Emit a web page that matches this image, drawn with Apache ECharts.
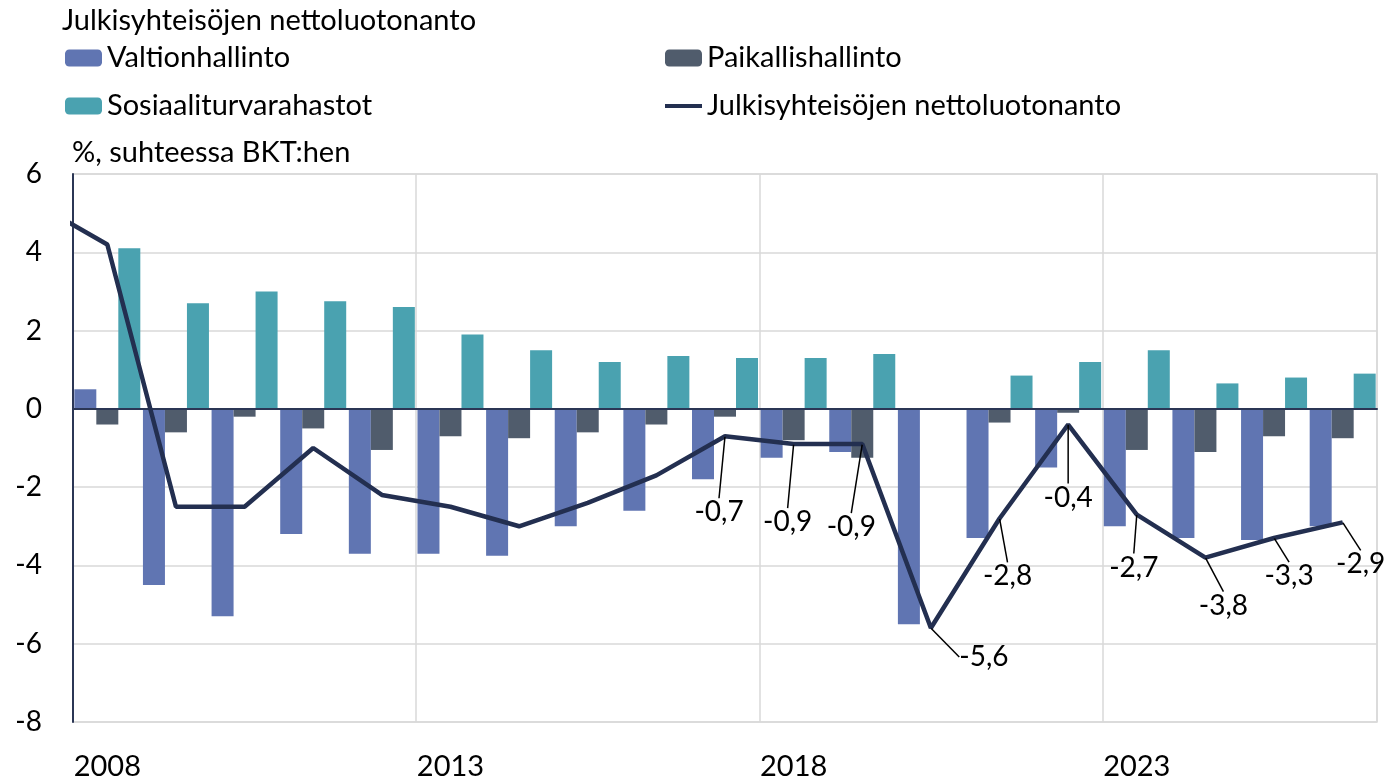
<!DOCTYPE html>
<html>
<head>
<meta charset="utf-8">
<script src="https://cdn.jsdelivr.net/npm/echarts@6/dist/echarts.min.js"></script>
<style>
  html, body { margin: 0; padding: 0; background: #fff; }
  #chart { width: 1391px; height: 782px; }
</style>
</head>
<body>
<div id="chart"></div>
<script>
// vuodet (pylväät)
const years = ['2008', '2009', '2010', '2011', '2012', '2013', '2014', '2015', '2016', '2017',
  '2018', '2019', '2020', '2021', '2022', '2023', '2024', '2025', '2026']

const valtionhallinto = [0.5, -4.5, -5.3, -3.2, -3.7, -3.7, -3.75, -3.0, -2.6, -1.8,
  -1.25, -1.1, -5.5, -3.3, -1.5, -3.0, -3.3, -3.35, -3.0]
const paikallishallinto = [-0.4, -0.6, -0.2, -0.5, -1.05, -0.7, -0.75, -0.6, -0.4, -0.2,
  -0.8, -1.25, 0, -0.35, -0.1, -1.05, -1.1, -0.7, -0.75]
const sosiaaliturva = [4.1, 2.7, 3.0, 2.75, 2.6, 1.9, 1.5, 1.2, 1.35, 1.3,
  1.3, 1.4, 0, 0.85, 1.2, 1.5, 0.65, 0.8, 0.9]

// viiva alkaa 2007:stä (leikkautuu kuvan reunaan)
const netYears = [2007, 2008, 2009, 2010, 2011, 2012, 2013, 2014, 2015, 2016, 2017,
  2018, 2019, 2020, 2021, 2022, 2023, 2024, 2025, 2026]
const netLending = [5.2, 4.2, -2.5, -2.5, -1.0, -2.2, -2.5, -3.0, -2.4, -1.7, -0.7,
  -0.9, -0.9, -5.6, -2.8, -0.4, -2.7, -3.8, -3.3, -2.9]
const labelFrom = 2017

const yTicks = { min: -8, max: 6, interval: 2 }

// arvolappujen siirrot pisteestä [dx, dy]
const labelShift = {
  2017: [-6, 76], 2018: [-6, 78], 2019: [-11, 83], 2020: [53, 29], 2021: [8, 58],
  2022: [0, 73], 2023: [-3, 53], 2024: [18, 48], 2025: [15, 38], 2026: [18, 42]
}

const FONT = 'Lato'
const names = ['Valtionhallinto', 'Paikallishallinto', 'Sosiaaliturvarahastot', 'Julkisyhteisöjen nettoluotonanto']

const lineData = netYears.map((y, i) => {
  if (y < labelFrom) return [y, netLending[i]]
  return { value: [y, netLending[i]], symbol: 'circle', symbolSize: 1, label: { show: true } }
})

const chart = echarts.init(document.getElementById('chart'), null, { renderer: 'canvas' })

chart.setOption({
  animation: false,
  textStyle: { fontFamily: FONT },
  title: [
    { text: 'Julkisyhteisöjen nettoluotonanto', left: 62, top: 6, padding: 0,
      textStyle: { fontSize: 29, fontWeight: 'normal', color: '#000', fontFamily: FONT } },
    { text: '%, suhteessa BKT:hen', left: 72, top: 138, padding: 0,
      textStyle: { fontSize: 29, fontWeight: 'normal', color: '#000', fontFamily: FONT } }
  ],
  legend: {
    left: 65, top: 39, width: 1250, padding: 0,
    itemWidth: 37, itemHeight: 17, itemGap: 10,
    data: [
      names[0], names[1], names[2],
      { name: names[3], icon: 'path://M0,0H37V4H0Z' }
    ],
    textStyle: { fontSize: 29, color: '#000', width: 548, lineHeight: 38, fontFamily: FONT }
  },
  grid: { left: 73, right: 14, top: 174, bottom: 60, show: true, borderColor: '#d9d9d9', borderWidth: 1.5 },
  xAxis: [
    {
      type: 'category', data: years, position: 'bottom',
      axisLine: { show: false, onZero: false },
      axisTick: { show: false, interval: 4 },
      axisLabel: { interval: 4, fontSize: 29, color: '#000', margin: 30, fontFamily: FONT },
      splitLine: { show: true, interval: 4, lineStyle: { color: '#d9d9d9', width: 1.5 } }
    },
    {
      type: 'value', min: 2007.5, max: 2026.5, z: 3,
      axisLine: { show: true, onZero: true, lineStyle: { color: '#2b3655', width: 2 } },
      axisTick: { show: false }, axisLabel: { show: false }, splitLine: { show: false }
    }
  ],
  yAxis: {
    type: 'value', min: yTicks.min, max: yTicks.max, interval: yTicks.interval,
    axisLine: { show: true, lineStyle: { color: '#2b3655', width: 2 } },
    axisTick: { show: false },
    axisLabel: { fontSize: 28, color: '#000', margin: 31, fontFamily: FONT },
    splitLine: { lineStyle: { color: '#d9d9d9', width: 1.5 } }
  },
  series: [
    { name: names[0], type: 'bar', data: valtionhallinto, barWidth: 22, barGap: '0%', itemStyle: { color: '#6075b2' } },
    { name: names[1], type: 'bar', data: paikallishallinto, barWidth: 22, barGap: '0%', itemStyle: { color: '#505c6c' } },
    { name: names[2], type: 'bar', data: sosiaaliturva, barWidth: 22, barGap: '0%', itemStyle: { color: '#4aa2b0' } },
    {
      name: names[3], type: 'line', xAxisIndex: 1, yAxisIndex: 0,
      data: lineData, symbol: 'none', clip: true, z: 4,
      lineStyle: { color: '#232f50', width: 4.5 },
      itemStyle: { color: '#232f50' },
      label: {
        show: false, position: 'inside', fontSize: 28, color: '#000', fontFamily: FONT, padding: 8,
        formatter: (p) => String(p.value[1]).replace('.', ',')
      },
      labelLine: { show: true, lineStyle: { color: '#000', width: 1.5 } },
      labelLayout: (p) => {
        const year = netYears[p.dataIndex]
        const s = labelShift[year] || [0, 0]
        return { dx: s[0], dy: s[1] }
      }
    }
  ]
})
</script>
</body>
</html>
